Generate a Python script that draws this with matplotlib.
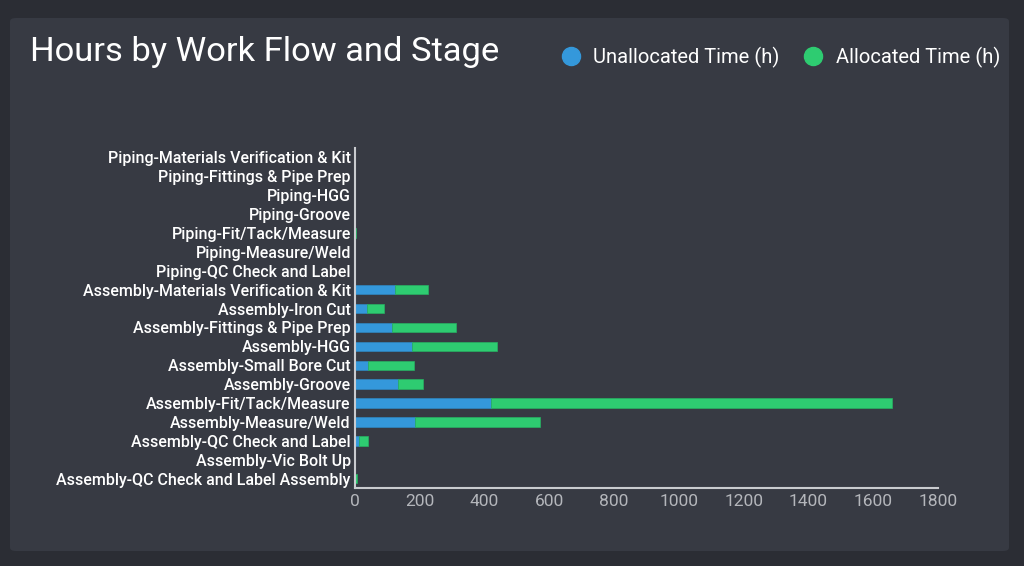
import numpy as np
import matplotlib
matplotlib.use("Agg")
import matplotlib.pyplot as plt
from matplotlib.patches import FancyBboxPatch
from matplotlib.lines import Line2D

# categories top to bottom
stages = [
    "Piping-Materials Verification & Kit",
    "Piping-Fittings & Pipe Prep",
    "Piping-HGG",
    "Piping-Groove",
    "Piping-Fit/Tack/Measure",
    "Piping-Measure/Weld",
    "Piping-QC Check and Label",
    "Assembly-Materials Verification & Kit",
    "Assembly-Iron Cut",
    "Assembly-Fittings & Pipe Prep",
    "Assembly-HGG",
    "Assembly-Small Bore Cut",
    "Assembly-Groove",
    "Assembly-Fit/Tack/Measure",
    "Assembly-Measure/Weld",
    "Assembly-QC Check and Label",
    "Assembly-Vic Bolt Up",
    "Assembly-QC Check and Label Assembly",
]
unallocated = [0, 0, 0, 0, 0, 0, 0, 123, 38, 113, 175, 40, 134, 420, 186, 11, 0, 0]
allocated = [0, 0, 0, 0, 3, 0, 0, 101, 52, 199, 262, 142, 77, 1237, 385, 29, 0, 6]
xticks = [0, 200, 400, 600, 800, 1000, 1200, 1400, 1600, 1800]

blue = "#3498db"
green = "#2ecc71"
bg = "#2b2d34"
card = "#373a43"

plt.rcParams['font.family'] = ['Roboto', 'DejaVu Sans']

fig = plt.figure(figsize=(10.24, 5.66), dpi=100, facecolor=bg)
fig.patches.append(FancyBboxPatch((10 / 1024, 1 - 551 / 566), 999 / 1024, 533 / 566,
                                  boxstyle="round,pad=0,rounding_size=0.006",
                                  transform=fig.transFigure, facecolor=card,
                                  edgecolor="none", zorder=-5))

ax = fig.add_axes([355 / 1024, 1 - 488 / 566, 583 / 1024, 340 / 566])
ax.set_facecolor("none")
ax.set_zorder(2)

y = np.arange(len(stages))
ax.barh(y, unallocated, height=0.5, color=blue, edgecolor="#2f86c0", linewidth=0.5)
ax.barh(y, allocated, left=unallocated, height=0.5, color=green, edgecolor="#27b062", linewidth=0.5)

ax.set_ylim(len(stages) - 0.5, -0.5)
ax.set_xlim(0, 1800)
ax.set_xticks(xticks)
ax.set_yticks(y)
ax.set_yticklabels(stages, color="white", fontsize=11.5, fontweight="medium")
ax.tick_params(axis="x", colors="#b4b6bb", labelsize=12.5, length=0, pad=4)
ax.tick_params(axis="y", length=0, pad=3)
for s in ["top", "right"]:
    ax.spines[s].set_visible(False)
for s in ["left", "bottom"]:
    ax.spines[s].set_color("#c9cbcf")
    ax.spines[s].set_linewidth(1.5)

fig.text(30 / 1024, 1 - 52 / 566, "Hours by Work Flow and Stage", color="white",
         fontsize=24.8, va="center", ha="left")

handles = [Line2D([], [], marker="o", linestyle="none", markersize=13, color=blue),
           Line2D([], [], marker="o", linestyle="none", markersize=13, color=green)]
fig.legend(handles, ["Unallocated Time (h)", "Allocated Time (h)"], loc="center right",
           bbox_to_anchor=(1018 / 1024, 1 - 57 / 566), ncol=2, frameon=False,
           labelcolor="white", fontsize=14.5, handletextpad=0.6, columnspacing=1.2,
           handlelength=1.0)

fig.savefig("out.png", dpi=100, facecolor=bg)
